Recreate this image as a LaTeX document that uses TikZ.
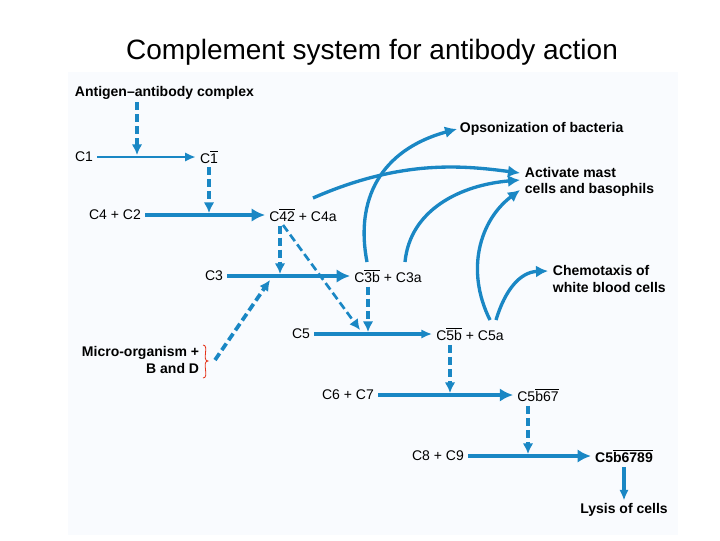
\documentclass[tikz,border=0pt]{standalone}
\usepackage{fontspec}
\setmainfont{Liberation Sans}
\usepackage{xcolor}
\usetikzlibrary{arrows.meta,positioning}
\definecolor{flow}{HTML}{1A87C4}
\definecolor{panel}{HTML}{F9FBFE}
\newcommand{\ovl}[1]{$\overline{\mbox{#1}}$}
\begin{document}
\begin{tikzpicture}[x=0.75pt,y=-0.75pt]
    % Define styles
    \tikzstyle{comp} = [inner sep=3pt, font=\fontsize{10.5}{12}\selectfont]
    \tikzstyle{result} = [inner sep=2pt, font=\fontsize{10.5}{12.5}\selectfont\bfseries, align=left]
    \tikzstyle{weakstep} = [flow, line width=1.8pt, -{Latex[length=8pt,width=7pt]}]
    \tikzstyle{mainstep} = [flow, line width=3.6pt, -{Latex[length=10pt,width=10pt]}]
    \tikzstyle{activation} = [flow, line width=2.8pt, dash pattern=on 6pt off 3pt, -{Latex[length=8pt,width=8pt]}]
    \tikzstyle{product} = [flow, line width=2.5pt, -{Latex[length=9pt,width=9pt]}]

    \useasboundingbox (0,0) rectangle (720,540);
    \fill[panel] (68,72) rectangle (678,535);
    \node[font=\fontsize{21}{25}\selectfont] (title) at (372,52) {Complement system for antibody action};

    % Nodes
    \node[result, anchor=west] (ag) at (72,93) {Antigen--antibody complex};
    \node[comp] (c1) at (84,157) {C1};
    \node[comp] (c1a) at (209,157) {C\ovl{1}};
    \node[comp] (c4c2) at (115,215) {C4 + C2};
    \node[comp] (c42) at (303,215) {C\ovl{42} + C4a};
    \node[comp] (c3) at (214,276) {C3};
    \node[comp] (c3b) at (388,276) {C\ovl{3b} + C3a};
    \node[comp] (c5) at (301,334) {C5};
    \node[comp] (c5b) at (470,334) {C\ovl{5b} + C5a};
    \node[result, align=right, anchor=east] (micro) at (202,360) {Micro-organism +\\B and D};
    \node[comp] (c6c7) at (348,395) {C6 + C7};
    \node[comp] (c567) at (538,395) {C5\ovl{b67}};
    \node[comp] (c8c9) at (438,456) {C8 + C9};
    \node[comp, font=\fontsize{10.5}{12}\selectfont\bfseries] (mac) at (624,456) {C5\ovl{b6789}};
    \node[result] (lysis) at (624,510) {Lysis of cells};
    \node[result, anchor=west] (opso) at (457,129) {Opsonization of bacteria};
    \node[result, anchor=west] (mast) at (522,182) {Activate mast\\cells and basophils};
    \node[result, anchor=west] (chemo) at (550,279) {Chemotaxis of\\white blood cells};

    % Join points on the reaction arrows
    \coordinate (j1) at (137,155);
    \coordinate (j2) at (209,213);
    \coordinate (j3) at (280,274);
    \coordinate (j4) at (368,332);
    \coordinate (j5) at (450,393);
    \coordinate (j6) at (528,454);

    % Reactions
    \draw[weakstep] (c1) -- (c1a);
    \draw[mainstep] (c4c2) -- (c42);
    \draw[mainstep] (c3) -- (c3b);
    \draw[weakstep, line width=2.6pt] (c5) -- (c5b);
    \draw[mainstep] (c6c7) -- (c567);
    \draw[mainstep] (c8c9) -- (mac);
    \draw[weakstep, line width=2.6pt] (mac) -- (lysis);

    % Activations
    \draw[activation] (ag.south -| j1) -- (j1);
    \draw[activation] (c1a) -- (j2);
    \draw[activation] (c42.south -| j3) -- (j3);
    \draw[activation, line width=2pt] (283,225) -- (360,330);
    \draw[activation] (c3b.south -| j4) -- (j4);
    \draw[activation] (c5b.south -| j5) -- (j5);
    \draw[activation] (c567.south -| j6) -- (j6);
    \draw[activation] (215,360) -- (270,280);
    \draw[red!60!brown, line width=0.6pt] (203,345) to[out=0,in=180] (208,361) to[out=180,in=0] (203,378);

    % Products
    \draw[product] (367,262) .. controls (355,200) and (380,150) .. (opso.west);
    \draw[product] (313,198) .. controls (400,160) and (460,165) .. (520,173);
    \draw[product] (405,262) .. controls (410,210) and (460,185) .. (520,180);
    \draw[product] (490,320) .. controls (465,270) and (480,220) .. (520,190);
    \draw[product] (496,320) .. controls (505,290) and (520,272) .. (548,271);
\end{tikzpicture}
\end{document}
